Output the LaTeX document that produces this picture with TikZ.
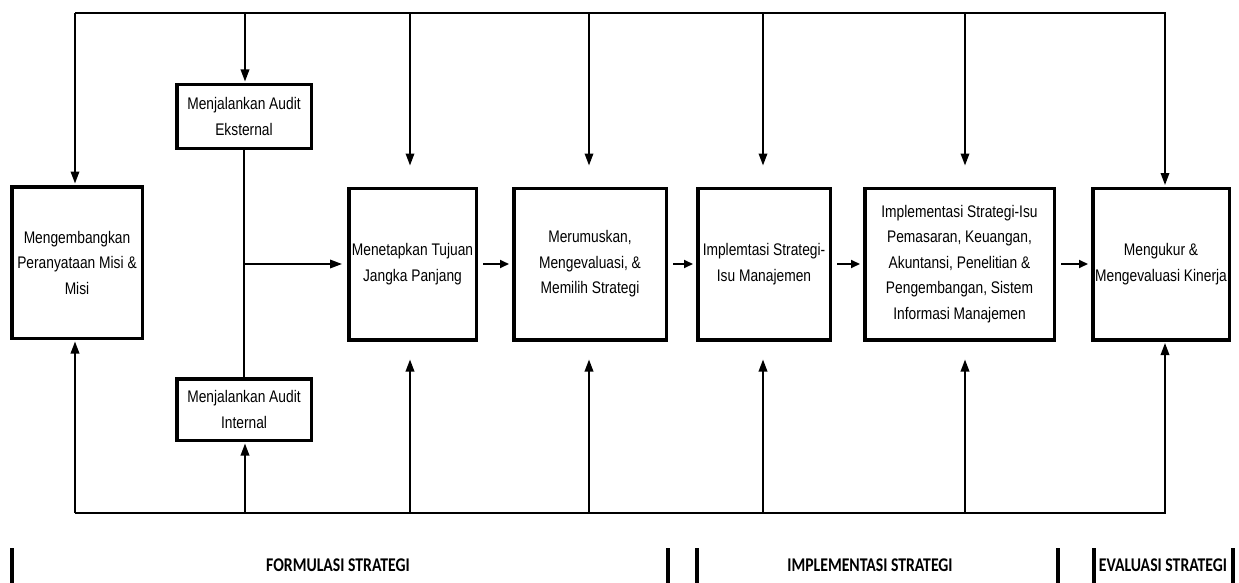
\documentclass[tikz,border=0pt]{standalone}
\usepackage{fontspec}
\setmainfont{Liberation Sans}[FakeStretch=0.82]
\newfontfamily\phasefont{Carlito}[FakeStretch=0.81]
\usepackage{tikz}
\usetikzlibrary{arrows.meta,positioning,calc}

\begin{document}
\begin{tikzpicture}[
    x=1pt,y=-1pt,
    box/.style={draw,line width=3.5pt,align=center,minimum height=151.5pt,inner sep=2pt,
      font=\fontsize{16.8}{25.5}\selectfont},
    auditbox/.style={box,minimum width=134.5pt},
    bus/.style={line width=2.2pt},
    arr/.style={-{Triangle[length=12pt,width=8.5pt]},line width=1.8pt,shorten >=1.5pt},
    sarr/.style={-{Triangle[length=9pt,width=8pt]},line width=1.8pt,shorten <=5pt,shorten >=3pt},
    bar/.style={line width=4pt},
    phase/.style={font=\phasefont\bfseries\fontsize{19.4}{20}\selectfont}
  ]
    \useasboundingbox (0,0) rectangle (1239,583);
    % boxes
    \node[box,minimum width=130.5pt] (misi) at (77,262.5) {Mengembangkan\\Peranyataan Misi \&\\Misi};
    \node[auditbox,minimum height=63.5pt] (ext) at (244,116.5) {Menjalankan Audit\\Eksternal};
    \node[auditbox,minimum height=61.5pt] (int) at (244,409.5) {Menjalankan Audit\\Internal};
    \node[box,minimum width=127.5pt] (tujuan) at (412.5,264) {Menetapkan Tujuan\\Jangka Panjang};
    \node[box,minimum width=152.5pt] (rumus) at (590,264) {Merumuskan,\\Mengevaluasi, \&\\Memilih Strategi};
    \node[box,minimum width=132.5pt] (impl) at (764,264) {Implemtasi Strategi-\\Isu Manajemen};
    \node[box,minimum width=189.5pt] (isu) at (959.5,264) {Implementasi Strategi-Isu\\Pemasaran, Keuangan,\\Akuntansi, Penelitian \&\\Pengembangan, Sistem\\Informasi Manajemen};
    \node[box,minimum width=136.5pt] (ukur) at (1161,264) {Mengukur \&\\Mengevaluasi Kinerja};
    % feedback lines top and bottom
    \coordinate (topl) at (75,13);
    \coordinate (topr) at (1166,13);
    \coordinate (botl) at (75,513);
    \coordinate (botr) at (1166,513);
    \draw[bus] (topl) -- (topr);
    \draw[bus] (botl) -- (botr);
    \foreach \x/\n in {75/misi,245/ext,1165/ukur} {
      \coordinate (top-\n) at (\x,13);
      \draw[arr] (top-\n) -- (top-\n |- \n.north);
    }
    \foreach \x/\n in {75/misi,245/int,1165/ukur} {
      \coordinate (bot-\n) at (\x,513);
      \draw[arr] (bot-\n) -- (bot-\n |- \n.south);
    }
    \foreach \x/\n in {410/tujuan,589/rumus,763/impl,965/isu} {
      \coordinate (top-\n) at (\x,13);
      \coordinate (bot-\n) at (\x,513);
      \draw[arr,shorten >=21pt] (top-\n) -- (top-\n |- \n.north);
      \draw[arr,shorten >=18pt] (bot-\n) -- (bot-\n |- \n.south);
    }
    % audit inputs
    \draw[line width=1.8pt] (ext) -- (int);
    \draw[arr,shorten >=5pt] (ext |- tujuan) -- (tujuan.west);
    \draw[sarr] (tujuan) -- (rumus);
    \draw[sarr] (rumus) -- (impl);
    \draw[sarr] (impl) -- (isu);
    \draw[sarr] (isu) -- (ukur);
    % phases
    \foreach \x in {12,668,697,1058,1094,1233}
      \draw[bar] (\x,548) -- (\x,583);
    \node[phase] (formulasi) at (338,565) {FORMULASI STRATEGI};
    \node[phase] (implementasi) at (870,565) {IMPLEMENTASI STRATEGI};
    \node[phase] (evaluasi) at (1163,565) {EVALUASI STRATEGI};
  \end{tikzpicture}
\end{document}
